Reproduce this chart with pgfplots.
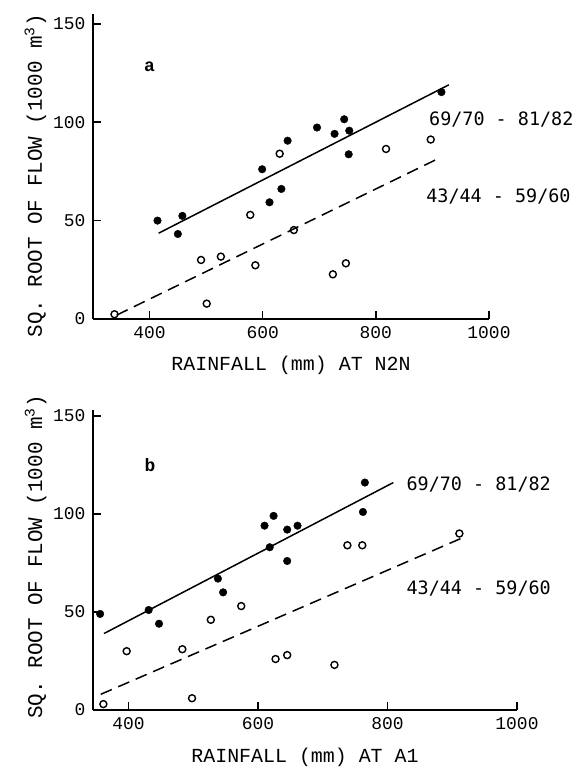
\documentclass[border=0pt]{standalone}
\usepackage{fontspec}
\setmainfont{Liberation Serif}
\setmonofont{Liberation Mono}
\newfontfamily\gothic{DejaVu Sans Mono}
\usepackage{pgfplots}
\pgfplotsset{compat=1.18}

\pgfplotsset{flowaxis/.style={
    scale only axis, axis lines=left,
    axis line style={-, line width=1.7bp},
    tick align=inside, major tick length=8bp,
    tick style={line width=1.5bp, black},
    clip=false, ymin=0,
    xtick={400,600,800,1000}, ytick={0,50,100,150},
    /pgf/number format/1000 sep={},
    /pgf/number format/assume math mode=true,
    tick label style={font=\fontsize{18}{18}\selectfont\ttfamily},
    yticklabel style={xshift=-4bp},
    xticklabel style={yshift=-4bp},
    label style={font=\fontsize{20}{20}\selectfont\ttfamily},
    ylabel={SQ. ROOT OF FLOW (1000 m\textsuperscript{3})},
  },
  filled/.style={only marks, mark=*, mark size=3.8bp, black},
  open/.style={only marks, mark=o, mark size=3.5bp, black, mark options={line width=1.4bp}},
}
\tikzset{period/.style={anchor=west, font=\fontsize{18.5}{18.5}\selectfont\gothic}}

\begin{document}
\begin{tikzpicture}
  \path[use as bounding box] (0bp,0bp) rectangle (576bp,767bp);

  % panel a
  \begin{axis}[flowaxis, at={(93bp,448bp)}, anchor=south west,
      width=396bp, height=305bp, xmin=300, xmax=1000, ymax=155,
      xlabel={RAINFALL (mm) AT N2N},
      xlabel style={at={(axis description cs:0.5,0)}, anchor=base, yshift=-52bp},
      ylabel style={at={(axis description cs:-0.129,0.469)}, anchor=base,
        font=\fontsize{21}{21}\selectfont\ttfamily}]
    \addplot[filled] table {
      x y
      414 50.0
      458 52.4
      450 43.2
      599 76.1
      612 59.3
      633 66.1
      752 83.7
      644 90.6
      696 97.3
      727 94.1
      744 101.5
      753 95.7
      916 115.3
    };
    \addplot[open] table {
      x y
      630 84.0
      818 86.4
      897 91.2
      578 52.9
      655 45.2
      491 30.0
      526 31.7
      587 27.3
      501 7.8
      338 2.4
      724 22.7
      747 28.3
    };
    \addplot[line width=1.5bp] coordinates {(416,43.6) (929,119)};
    \addplot[line width=1.5bp, dash pattern=on 12bp off 7bp] coordinates {(342,2) (908,81.2)};
    \node[period] at (axis cs:888,101.2) {69/70 - 81/82};
    \node[period] at (axis cs:883,62) {43/44 - 59/60};
    \node[font=\fontsize{18}{18}\selectfont\bfseries\ttfamily] at (axis cs:400,128) {a};
  \end{axis}

  % panel b
  \begin{axis}[flowaxis, at={(93bp,57bp)}, anchor=south west,
      width=424bp, height=300bp, xmin=345, xmax=1000, ymax=153,
      xlabel={RAINFALL (mm) AT A1},
      xlabel style={at={(axis description cs:0.5,0)}, anchor=base, yshift=-52bp},
      ylabel style={at={(axis description cs:-0.120,0.51)}, anchor=base,
        font=\fontsize{21}{21}\selectfont\ttfamily}]
    \addplot[filled] table {
      x y
      356 49
      431 51
      447 44
      538 67
      546 60
      610 94
      624 99
      645 92
      661 94
      618 83
      645 76
      765 116
      762 101
    };
    \addplot[open] table {
      x y
      574 53
      738 84
      761 84
      911 90
      397 30
      483 31
      527 46
      498 6
      361 3
      627 26
      645 28
      718 23
    };
    \addplot[line width=1.5bp] coordinates {(362,39) (809,116)};
    \addplot[line width=1.5bp, dash pattern=on 12bp off 7bp] coordinates {(357,8) (917,88)};
    \node[period] at (axis cs:824,114.8) {69/70 - 81/82};
    \node[period] at (axis cs:824,62.2) {43/44 - 59/60};
    \node[font=\fontsize{18}{18}\selectfont\bfseries\ttfamily] at (axis cs:433,125) {b};
  \end{axis}
\end{tikzpicture}
\end{document}
